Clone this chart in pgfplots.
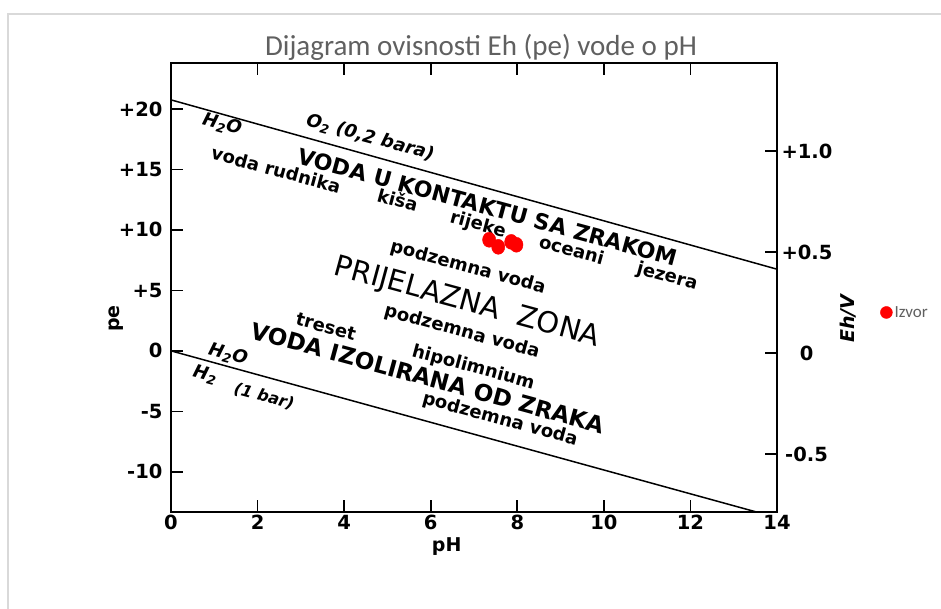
\documentclass[border=0pt]{standalone}
\usepackage{pgfplots}
\pgfplotsset{compat=1.18}
\usepackage{fontspec}
\setmainfont{DejaVu Sans}
\newfontfamily\carlito{Carlito}
\definecolor{titlegray}{RGB}{96,96,96}
\definecolor{framegray}{RGB}{217,217,217}
\newcommand{\fs}[1]{\fontsize{#1}{#1}\selectfont}
\begin{document}
\begin{tikzpicture}
\useasboundingbox (0pt,0pt) rectangle (941pt,609pt);
\draw[framegray, line width=1.2pt] (8pt,-5pt) -- (8pt,595pt) -- (950pt,595pt);
\node[font=\carlito\fs{29}, text=titlegray] at (481pt,562pt) {Dijagram ovisnosti Eh (pe) vode o pH};
\begin{axis}[
  at={(171pt,97.3pt)}, anchor=south west, scale only axis,
  width=606pt, height=448.7pt,
  xmin=0, xmax=14, ymin=-13.3, ymax=23.8,
  xtick={0,2,...,14}, ytick={-10,-5,0,5,10,15,20},
  yticklabels={-10,-5,0,+5,+10,+15,+20},
  xtick pos=both, xticklabel pos=lower, ytick pos=left,
  tick align=inside, major tick length=12pt,
  axis line style={line width=1.9pt},
  every tick/.style={line width=1.6pt, black},
  ticklabel style={font=\bfseries\fs{19.5}},
  yticklabel style={xshift=-5pt},
  /pgf/number format/assume math mode=true,
  xlabel={pH}, ylabel={pe},
  label style={font=\bfseries\fs{19}},
  xlabel style={at={(ticklabel cs:0.455)}, yshift=-1pt},
  ylabel style={at={(ticklabel cs:0.43)}, yshift=-11pt},
  legend style={at={(1.165,0.444)}, anchor=west, draw=none, fill=none,
    font=\carlito\fs{17}\color{titlegray}},
  legend image code/.code={\fill[red] (0pt,0pt) circle (6pt);},
  clip=false,
]
\addplot[line width=1.5pt, forget plot] coordinates {(0,20.75) (14,6.75)};
\addplot[line width=1.5pt, forget plot] coordinates {(0,0) (13.5,-13.3)};
\addplot[only marks, mark=*, mark size=7.5pt, red, mark options={xscale=0.88, draw=red, fill=red}]
  coordinates {(7.35,9.18) (7.56,8.6) (7.86,9.01) (7.98,8.77)};
\addlegendentry{Izvor}
\begin{scope}[every node/.style={rotate=-15.2, font=\bfseries\fs{18}}]
\node at (axis cs:1.18,18.7) {\itshape H\textsubscript{2}O};
\node at (axis cs:4.6,17.6) {\itshape O\textsubscript{2} (0,2 bara)};
\node[font=\bfseries\fs{22}] at (axis cs:7.32,11.9) {VODA U KONTAKTU SA ZRAKOM};
\node at (axis cs:2.43,14.98) {voda rudnika};
\node at (axis cs:5.24,12.5) {kiša};
\node at (axis cs:7.09,10.4) {rijeke};
\node at (axis cs:9.26,8.36) {oceani};
\node at (axis cs:11.46,6.12) {jezera};
\node at (axis cs:6.86,6.87) {podzemna voda};
\node[font=\mdseries\fs{29}] at (axis cs:6.84,3.97) {PRIJELAZNA\ \ ZONA};
\node at (axis cs:6.72,1.56) {podzemna voda};
\node at (axis cs:3.58,2.0) {treset};
\node[font=\bfseries\fs{23}] at (axis cs:5.94,-2.23) {VODA IZOLIRANA OD ZRAKA};
\node at (axis cs:6.98,-1.4) {hipolimnium};
\node at (axis cs:1.32,-0.3) {\itshape H\textsubscript{2}O};
\node at (axis cs:0.79,-2.0) {\itshape H\textsubscript{2}};
\node[font=\bfseries\fs{16}] at (axis cs:2.15,-3.8) {\itshape (1 bar)};
\node at (axis cs:7.6,-5.7) {podzemna voda};
\end{scope}
\end{axis}
\begin{axis}[
  at={(171pt,97.3pt)}, anchor=south west, scale only axis,
  width=606pt, height=448.7pt,
  xmin=0, xmax=14, ymin=-0.786, ymax=1.436,
  axis x line=none, axis y line*=right,
  ytick={-0.5,0,0.5,1.0}, yticklabels={-0.5,0,+0.5,+1.0},
  tick align=inside, major tick length=12pt,
  axis line style={line width=1.9pt},
  every tick/.style={line width=1.6pt, black},
  ticklabel style={font=\bfseries\fs{19.5}},
  yticklabel style={text width=50pt, align=center, xshift=1pt},
  /pgf/number format/assume math mode=true,
  ylabel={\itshape Eh/V},
  label style={font=\bfseries\fs{19}},
  ylabel style={at={(ticklabel cs:0.43)}, yshift=-2pt},
]
\addplot[draw=none, forget plot] coordinates {(0,0)};
\end{axis}
\end{tikzpicture}
\end{document}
